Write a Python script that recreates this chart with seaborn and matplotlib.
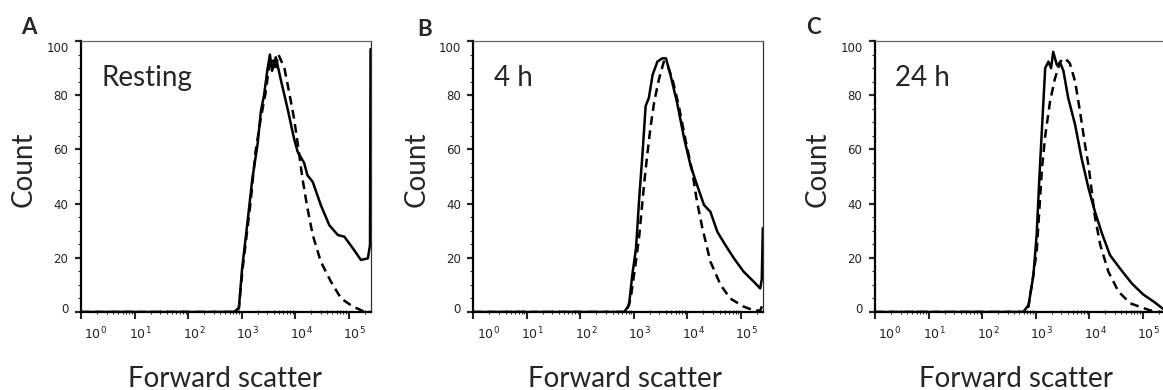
import numpy as np
import pandas as pd
import seaborn as sns
import matplotlib.pyplot as plt
from matplotlib.transforms import ScaledTranslation
from matplotlib.ticker import FixedLocator, LogLocator, MultipleLocator, NullFormatter

sns.set_style('ticks')
plt.rcParams['font.family'] = ['Lato', 'DejaVu Sans']

# forward scatter given as log10 decade, count in % of max
a_solid_log = [0, 2.86, 2.95, 3.01, 3.11, 3.20, 3.30, 3.36, 3.42, 3.48, 3.53, 3.57, 3.64,
               3.73, 3.86, 3.98, 4.05, 4.17, 4.23, 4.33, 4.48, 4.64, 4.80, 4.92, 5.08,
               5.23, 5.36, 5.40, 5.41]
a_solid = [0, 0, 1.5, 16, 33, 49, 62, 74, 80, 89, 95, 89, 94,
           86, 75, 64, 59, 55, 50.5, 48, 39.5, 32, 28.4, 27.8, 23.5,
           19.2, 19.8, 24.7, 97]
a_dash_log = [0, 2.88, 2.95, 3.02, 3.17, 3.26, 3.36, 3.45, 3.51, 3.58, 3.63, 3.69, 3.80,
              3.89, 3.98, 4.05, 4.14, 4.23, 4.33, 4.48, 4.67, 4.86, 5.08, 5.23, 5.30, 5.41]
a_dash = [0, 0, 1.4, 16, 40.7, 59, 71.5, 81, 90, 93.6, 89, 95, 90,
          81, 71.5, 62, 49, 38.4, 28.4, 18.6, 11.2, 5, 2, 0.7, 0, 0]

b_solid_log = [0, 2.82, 2.91, 2.97, 3.04, 3.10, 3.16, 3.22, 3.28, 3.35, 3.44, 3.53, 3.60,
               3.69, 3.81, 3.94, 4.06, 4.18, 4.31, 4.43, 4.56, 4.71, 4.87, 5.05, 5.24,
               5.36, 5.39, 5.41]
b_solid = [0, 0, 2.6, 13.6, 23.5, 42, 58, 76, 79, 87.5, 92.4, 93.6, 93.6,
           87, 77, 64, 54, 46.9, 39.5, 37, 29.6, 24.7, 19.8, 14.9, 11.2,
           8.7, 12, 31]
b_dash_log = [0, 2.86, 2.94, 3.02, 3.10, 3.19, 3.25, 3.31, 3.38, 3.47, 3.56, 3.63, 3.72,
              3.84, 3.97, 4.09, 4.18, 4.28, 4.43, 4.62, 4.80, 5.05, 5.24, 5.36, 5.41]
b_dash = [0, 0, 5, 16, 28, 47, 58, 68, 77.6, 86, 92.4, 91, 86,
          76, 63, 52, 40.7, 31, 18.6, 10, 5, 2, 0.6, 0.5, 3]

c_solid_log = [0, 2.77, 2.87, 2.96, 3.02, 3.08, 3.13, 3.18, 3.24, 3.29, 3.33, 3.40, 3.46,
               3.52, 3.61, 3.74, 3.86, 3.99, 4.11, 4.24, 4.39, 4.58, 4.80, 5.01, 5.23,
               5.36, 5.418]
c_solid = [0, 0, 2.6, 13.6, 28.4, 53, 71.5, 90, 92.4, 90, 96, 91, 92,
           89, 79, 69, 56.7, 45.6, 37, 29, 21, 16, 10.5, 6.5, 3.5,
           1.5, 0.8]
c_dash_log = [0, 2.85, 2.93, 3.02, 3.12, 3.18, 3.27, 3.36, 3.46, 3.55, 3.64, 3.74, 3.83,
              3.93, 3.99, 4.11, 4.21, 4.36, 4.55, 4.77, 5.08, 5.25, 5.418]
c_dash = [0, 0, 10, 22, 53, 65, 77.6, 86, 92.4, 93.6, 91.8, 85, 74,
          61, 54, 35, 24.7, 14.9, 7.5, 3.2, 1, 0, 0]

letters = ['A', 'B', 'C']
conditions = ['Resting', '4 h', '24 h']
decades = [1, 10, 100, 1000, 10000, 100000]
decade_labels = ['$10^0$', '$10^1$', '$10^2$', '$10^3$', '$10^4$', '$10^5$']
yticks = [0, 20, 40, 60, 80, 100]

panels = [(a_solid_log, a_solid, a_dash_log, a_dash),
          (b_solid_log, b_solid, b_dash_log, b_dash),
          (c_solid_log, c_solid, c_dash_log, c_dash)]

fig = plt.figure(figsize=(11.63, 3.9), dpi=100)
lefts = [81 / 1163, 473.3 / 1163, 875 / 1163]
letter_xy = [(29, 28), (425, 29), (813, 28)]
xlab_x = [0.498, 0.523, 0.486]

for i, (sl, s, dl, d) in enumerate(panels):
    ax = fig.add_axes([lefts[i], 78 / 390, 290 / 1163, 271 / 390])
    ax.set_xscale('log')
    sns.lineplot(x=np.power(10.0, sl), y=s, ax=ax, color='black', lw=1.8,
                 estimator=None, sort=False)
    sns.lineplot(x=np.power(10.0, dl), y=d, ax=ax, color='black', lw=1.8,
                 estimator=None, sort=False, linestyle=(0, (3.5, 2.2)))
    ax.set_xlim(1, 262144)
    ax.set_ylim(0, 100)

    ax.xaxis.set_major_locator(FixedLocator(decades))
    ax.set_xticklabels(decade_labels)
    ax.xaxis.set_minor_locator(LogLocator(base=10, subs=range(2, 10), numticks=20))
    ax.xaxis.set_minor_formatter(NullFormatter())
    ax.yaxis.set_major_locator(FixedLocator(yticks))
    ax.set_yticklabels([str(v) for v in yticks])
    ax.yaxis.set_minor_locator(MultipleLocator(5))

    ax.tick_params(axis='x', which='major', length=5, width=1.5, labelsize=9, pad=5)
    ax.tick_params(axis='x', which='minor', length=3, width=0.8, direction='inout')
    ax.tick_params(axis='y', which='major', length=4, width=1.6, labelsize=8.5, pad=5)
    ax.tick_params(axis='y', which='minor', length=2.5, width=0.8)
    for k, lab in enumerate(ax.get_xticklabels()):
        shift = 0.15 if k == 0 else 0.06
        lab.set_family('DejaVu Sans')
        lab.set_color('#222222')
        lab.set_transform(lab.get_transform() + ScaledTranslation(shift, 0, fig.dpi_scale_trans))
    for lab in ax.get_yticklabels():
        lab.set_family('DejaVu Sans')
        lab.set_color('#222222')
    ylabs = ax.get_yticklabels()
    ylabs[0].set_transform(ylabs[0].get_transform() + ScaledTranslation(0, 0.04, fig.dpi_scale_trans))
    ylabs[-1].set_transform(ylabs[-1].get_transform() + ScaledTranslation(0, -0.06, fig.dpi_scale_trans))

    for side in ['left', 'bottom']:
        ax.spines[side].set_linewidth(1.6)
        ax.spines[side].set_color('black')
    ax.spines['top'].set_linewidth(0.9)
    ax.spines['top'].set_color('#666666')
    ax.spines['right'].set_linewidth(0.9)
    ax.spines['right'].set_color('#333333')

    ax.set_xlabel('')
    ax.set_ylabel('')
    ax.text(-0.197, 0.525, 'Count', rotation=90, ha='center', va='center',
            fontsize=20, transform=ax.transAxes)
    ax.text(xlab_x[i], -0.277, 'Forward scatter', ha='center', va='baseline',
            fontsize=20, transform=ax.transAxes)
    ax.text(0.07, 0.835, conditions[i], ha='left', va='baseline',
            fontsize=20, transform=ax.transAxes)
    fig.text(letter_xy[i][0] / 1163, 1 - letter_xy[i][1] / 390, letters[i],
             ha='center', va='center', fontsize=16, fontweight='bold')

fig.savefig('out.png', dpi=100)
